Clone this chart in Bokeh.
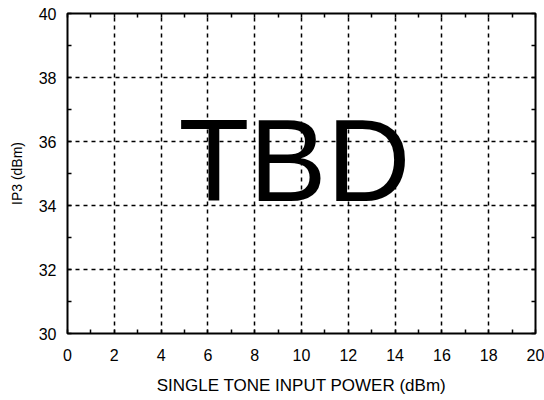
from bokeh.plotting import figure
from bokeh.models import LinearAxis, Range1d, FixedTicker, Label, Grid, CustomLabelingPolicy
from bokeh.embed import file_html
from bokeh.resources import INLINE

x_ticks = [0, 2, 4, 6, 8, 10, 12, 14, 16, 18, 20]
y_ticks = [30, 32, 34, 36, 38, 40]
x_minor = [1, 3, 5, 7, 9, 11, 13, 15, 17, 19]
y_minor = [31, 33, 35, 37, 39]
x_label = "SINGLE TONE INPUT POWER (dBm)"
y_label = "IP3 (dBm)"
note_text = "TBD"
note_x = 9.7
note_y = 35.4

FONT = "Liberation Sans"

p = figure(width=544, height=400, output_backend="svg", toolbar_location=None,
           x_range=Range1d(0, 20), y_range=Range1d(30, 40),
           x_axis_location=None, y_axis_location=None,
           min_border_left=67, min_border_right=9, min_border_top=13, min_border_bottom=67)
p.outline_line_color = "black"
p.outline_line_width = 2
p.outline_line_alpha = 1
p.background_fill_color = "white"
p.border_fill_color = "white"

hide_policy = CustomLabelingPolicy(code="""
for (let i = 0; i < indices.size; i++) { indices.unset(i) }
return indices
""")

def style_axis(ax, ticks, minor, show_labels):
    ax.ticker = FixedTicker(ticks=ticks, minor_ticks=minor)
    ax.axis_line_color = None
    ax.major_tick_in = 4
    ax.major_tick_out = 0
    ax.minor_tick_in = 4
    ax.minor_tick_out = 0
    ax.major_tick_line_color = "black"
    ax.minor_tick_line_color = "black"
    ax.major_tick_line_width = 1.5
    ax.minor_tick_line_width = 1.5
    ax.major_label_text_font = FONT
    ax.major_label_text_color = "black"
    ax.axis_label_text_color = "black"
    if show_labels:
        ax.major_label_text_font_size = "16px"
    else:
        ax.major_label_text_font_size = "1px"
        ax.major_label_policy = hide_policy
        ax.major_label_standoff = 0

xb = LinearAxis(axis_label=x_label)
style_axis(xb, x_ticks, x_minor, True)
xb.major_label_standoff = 15
xb.axis_label_text_font = FONT
xb.axis_label_text_font_size = "17px"
xb.axis_label_text_font_style = "normal"
xb.axis_label_standoff = 12
p.add_layout(xb, "below")

yl = LinearAxis(axis_label=y_label)
style_axis(yl, y_ticks, y_minor, True)
yl.major_label_standoff = 11
yl.axis_label_text_font = FONT
yl.axis_label_text_font_size = "14px"
yl.axis_label_text_font_style = "normal"
yl.axis_label_standoff = 11
p.add_layout(yl, "left")

xt = LinearAxis()
style_axis(xt, x_ticks, x_minor, False)
p.add_layout(xt, "above")

yr = LinearAxis()
style_axis(yr, y_ticks, y_minor, False)
p.add_layout(yr, "right")

p.xgrid.visible = False
p.ygrid.visible = False
for dim, ax in ((0, xb), (1, yl)):
    g = Grid(dimension=dim, ticker=ax.ticker, grid_line_color="black",
             grid_line_width=1.5, grid_line_dash="4 4", level="overlay")
    p.add_layout(g)

lab = Label(x=note_x, y=note_y, text=note_text, text_font=FONT, text_font_size="116px",
            text_align="center", text_baseline="middle", text_color="black", level="annotation")
p.add_layout(lab)

open("out.html", "w").write(file_html(p, INLINE))
